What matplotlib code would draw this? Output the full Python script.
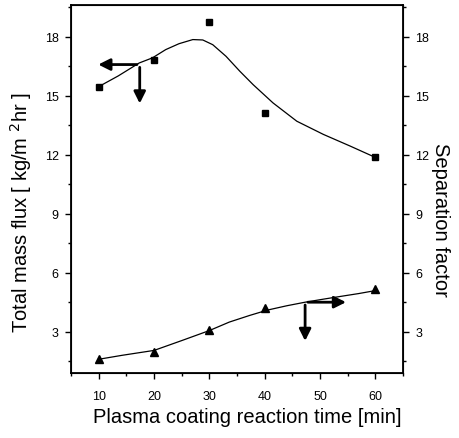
import numpy as np
import matplotlib.pyplot as plt
from matplotlib.ticker import MultipleLocator

plt.rcParams['font.family'] = ['Liberation Sans', 'DejaVu Sans']

# measured points
time_min = [10, 20, 30, 40, 60]
flux = [15.46, 16.83, 18.76, 14.14, 11.86]
sep_factor = [1.6, 1.98, 3.1, 4.2, 5.15]

# fitted curves
flux_fit_x = [10, 13.5, 17.3, 19.7, 22.1, 24.5, 27.0, 28.8, 30.6, 33.0, 35.5, 37.9,
              41.5, 45.8, 50.6, 55.5, 60]
flux_fit_y = [15.46, 16.0, 16.66, 16.92, 17.34, 17.64, 17.85, 17.83, 17.59, 17.0, 16.24, 15.56,
              14.63, 13.7, 13.03, 12.43, 11.86]
sep_fit_x = [10, 14.2, 20, 25.1, 30, 33.6, 37.3, 40.5, 44, 47.3, 50.5, 53.6, 57, 60]
sep_fit_y = [1.6, 1.8, 2.05, 2.56, 3.06, 3.49, 3.83, 4.1, 4.32, 4.5, 4.65, 4.79, 4.94, 5.09]

fig = plt.figure(figsize=(4.59, 4.39), dpi=100)
ax = fig.add_axes([0.155, 0.148, 0.723, 0.838])

ax.plot(flux_fit_x, flux_fit_y, color='black', lw=0.9)
ax.plot(time_min, flux, 's', color='black', ms=5)
ax.plot(sep_fit_x, sep_fit_y, color='black', lw=0.9)
ax.plot(time_min, sep_factor, '^', color='black', ms=5.5)

arrow_kw = dict(arrowstyle='-|>,head_length=0.7,head_width=0.35', color='black', lw=2)
ax.annotate('', xy=(9.4, 16.58), xytext=(17.4, 16.58), arrowprops=arrow_kw)
ax.annotate('', xy=(17.4, 14.46), xytext=(17.4, 16.58), arrowprops=arrow_kw)
ax.annotate('', xy=(55.2, 4.5), xytext=(47.3, 4.5), arrowprops=arrow_kw)
ax.annotate('', xy=(47.3, 2.39), xytext=(47.3, 4.5), arrowprops=arrow_kw)

ax.set_xlim(5, 65)
ax.set_ylim(0.9, 19.6)
ax.set_xticks([10, 20, 30, 40, 50, 60])
ax.set_yticks([3, 6, 9, 12, 15, 18])
ax.xaxis.set_minor_locator(MultipleLocator(5))
ax.yaxis.set_minor_locator(MultipleLocator(1.5))
ax.tick_params(which='both', direction='out', labelsize=9, width=1)
ax.tick_params(which='major', length=4)
ax.tick_params(which='minor', length=2)
ax.tick_params(axis='x', pad=8)
ax.tick_params(axis='y', pad=5)
for s in ax.spines.values():
    s.set_linewidth(1.3)

ax2 = ax.twinx()
ax2.set_ylim(ax.get_ylim())
ax2.set_yticks([3, 6, 9, 12, 15, 18])
ax2.yaxis.set_minor_locator(MultipleLocator(1.5))
ax2.tick_params(which='both', direction='out', labelsize=9, width=1)
ax2.tick_params(which='major', length=4, pad=5)
ax2.tick_params(which='minor', length=2)

ax.set_xlabel('Plasma coating reaction time [min]', fontsize=14.5, labelpad=4)
ax.set_ylabel('Total mass flux [ kg/m $^{2}$hr ]', fontsize=14.5, labelpad=8)
ax2.set_ylabel('Separation factor', fontsize=14.5, rotation=-90, labelpad=15)
ax.xaxis.label.set_x(0.53)
ax.yaxis.label.set_y(0.44)
ax2.yaxis.label.set_y(0.42)

fig.savefig('out.png', dpi=100)
